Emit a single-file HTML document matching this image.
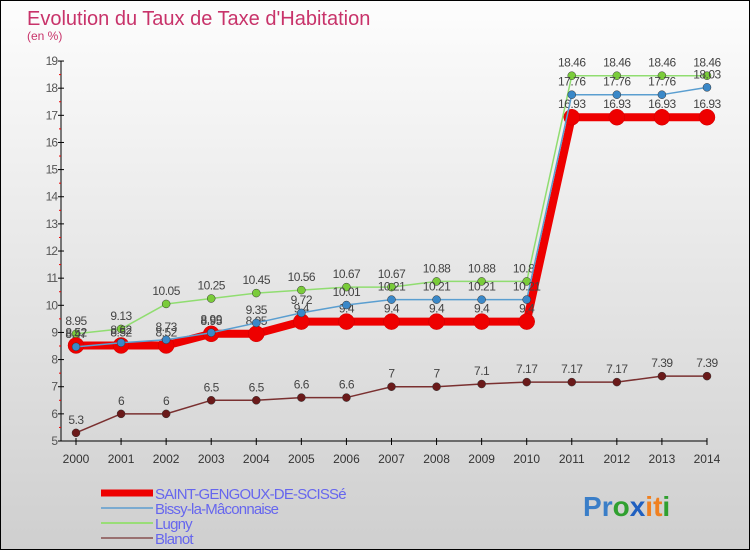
<!DOCTYPE html>
<html><head><meta charset="utf-8">
<style>
html,body{margin:0;padding:0}
body{width:750px;height:550px;overflow:hidden;font-family:"Liberation Sans",sans-serif}
#wrap{position:relative;width:748px;height:548px;border:1px solid #000;background:linear-gradient(#fdfdfd,#cfcfcf)}
svg{position:absolute;left:0;top:0}
</style></head><body>
<div id="wrap">
<svg id="chart" width="748" height="548"></svg>
</div>
<script>
const years=[2000,2001,2002,2003,2004,2005,2006,2007,2008,2009,2010,2011,2012,2013,2014];
const saint=[8.52,8.52,8.52,8.95,8.95,9.4,9.4,9.4,9.4,9.4,9.4,16.93,16.93,16.93,16.93];
const bissy=[8.47,8.62,8.73,8.99,9.35,9.72,10.01,10.21,10.21,10.21,10.21,17.76,17.76,17.76,18.03];
const lugny=[8.95,9.13,10.05,10.25,10.45,10.56,10.67,10.67,10.88,10.88,10.88,18.46,18.46,18.46,18.46];
const blanot=[5.3,6,6,6.5,6.5,6.6,6.6,7,7,7.1,7.17,7.17,7.17,7.39,7.39];
const yTicks=[5,6,7,8,9,10,11,12,13,14,15,16,17,18,19];
const NS="http://www.w3.org/2000/svg";
const svg=document.getElementById('chart');
const x=i=>75+i*45.07;
const y=v=>440-(v-5)*27.14;
function mk(t,a,p){const e=document.createElementNS(NS,t);for(const k in a)e.setAttribute(k,a[k]);(p||svg).appendChild(e);return e;}
function txt(s,a){const e=mk('text',a);e.textContent=s;return e;}
// title
let t=txt("Evolution du Taux de Taxe d'Habitation",{x:26,y:24,'font-size':20,fill:'#c8336a'});

t=txt("(en %)",{x:26,y:39,'font-size':12,fill:'#c8336a'});

// axes
let ax=mk('line',{x1:60,y1:60,x2:60,y2:440,stroke:'#000','stroke-width':1});

ax=mk('line',{x1:60,y1:440,x2:706,y2:440,stroke:'#000','stroke-width':1});

yTicks.forEach(v=>{
 mk('line',{x1:57,y1:y(v),x2:63,y2:y(v),stroke:'#000'});
 if(v<19)mk('line',{x1:58,y1:y(v+0.5),x2:60,y2:y(v+0.5),stroke:'#e00'});
 const l=txt(v,{x:56,y:y(v)+4,'font-size':12,fill:'#555','text-anchor':'end','letter-spacing':'-1'});
 
});
years.forEach((yr,i)=>{
 mk('line',{x1:x(i),y1:437,x2:x(i),y2:444,stroke:'#000'});
 const l=txt(yr,{x:x(i),y:462,'font-size':12,fill:'#333','text-anchor':'middle'});
 
});
function series(vals,color,w,r,name,dot){
 const g=mk('g',{});
 
 mk('polyline',{points:vals.map((v,i)=>x(i)+','+y(v)).join(' '),fill:'none',stroke:color,'stroke-width':w,'stroke-linejoin':'round'},g);
 vals.forEach((v,i)=>{
  const c=mk('circle',{cx:x(i),cy:y(v),r:r,fill:dot,stroke:color==='#e00'?'#c00':'#333','stroke-width':0.5},g);
  
  const l=txt(v,{x:x(i),y:y(v)-9,'font-size':12,fill:'#444','text-anchor':'middle','letter-spacing':'-0.5'});
  
 });
}
series(blanot,'#7a3030',1.5,4,'series-blanot','#6b1a1a');
series(lugny,'#90dd70',1.5,4,'series-lugny','#7acc3a');
series(saint,'#e00',8,8,'series-saint-gengoux','#e00');
series(bissy,'#5a9ed0',1.5,4,'series-bissy','#3a88c8');
// legend
const leg=[['SAINT-GENGOUX-DE-SCISSé','#e00',7],['Bissy-la-Mâconnaise','#7aaad0',2],['Lugny','#99dd77',2],['Blanot','#997070',2]];
leg.forEach((d,i)=>{
 const g=mk('g',{});
 
 const ly=492+i*15;
 mk('line',{x1:100,y1:ly,x2:152,y2:ly,stroke:d[1],'stroke-width':d[2]},g);
 const l=txt(d[0],{x:154,y:ly+6,'font-size':15,fill:'#6666ee','letter-spacing':'-0.8'});
 g.appendChild(l);
});
// logo
const lg=mk('text',{x:582,y:515,'font-size':28,'font-weight':'bold'});

[['P','#3a7ec8'],['r','#3a7ec8'],['o','#30a030'],['x','#2060c0'],['i','#f08020'],['t','#f08020'],['i','#30a030']].forEach(c=>{const s=mk('tspan',{fill:c[1]},lg);s.textContent=c[0];});
</script>
</body></html>
